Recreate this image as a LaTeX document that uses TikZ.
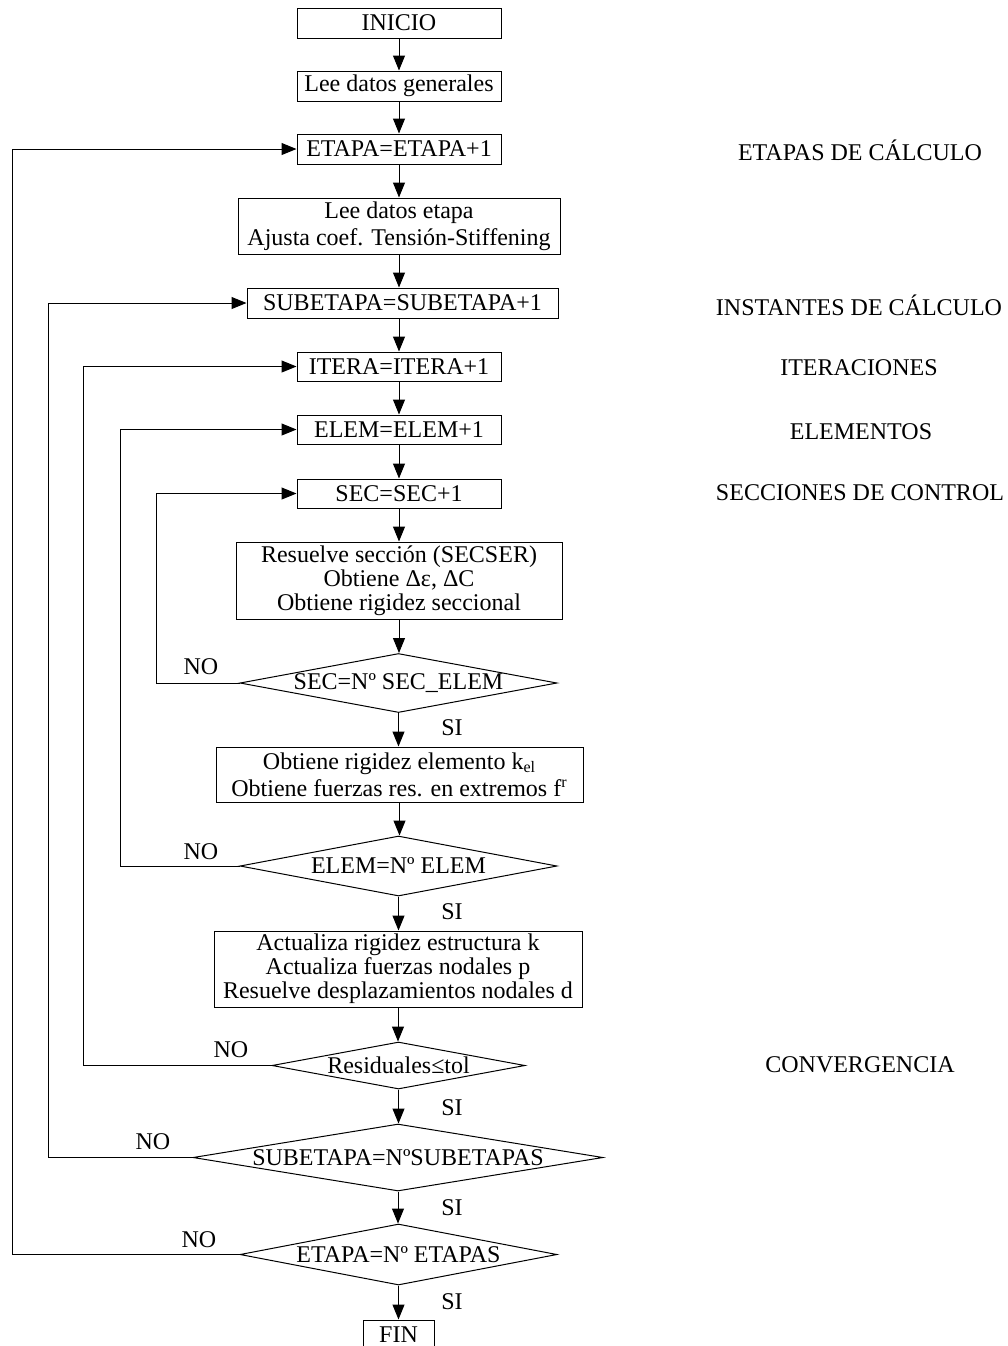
\documentclass[tikz,border=0pt]{standalone}
\usepackage{fontspec}
\setmainfont{Liberation Serif}
\usepackage{tikz}
\usetikzlibrary{arrows.meta}
\usetikzlibrary{shapes.geometric}
\newcommand{\Rtext}[1]{\makebox[0pt]{#1}}

\begin{document}
\begin{tikzpicture}[x=0.5pt, y=-0.5pt, line width=0.5pt,
		every node/.style={font=\fontsize{12}{12}\selectfont},
		caja/.style={draw, rectangle, align=center, inner sep=0pt},
		ancha/.style={font=\fontsize{12}{13.5}\selectfont},
		rombo/.style={draw, diamond, inner sep=0pt},
		arr/.style={-{Triangle[length=7.5pt,width=6pt]}}]
		\useasboundingbox (0,0) rectangle (1008,1346);

		% columna principal
		\node(inicio)	[caja, minimum width=102pt, minimum height=15pt]	at (399,23)		{INICIO};
		\node(leegen)	[caja, minimum width=102pt, minimum height=15pt]	at (399,86)		{Lee datos generales};
		\node(etapa)	[caja, minimum width=102pt, minimum height=15pt]	at (399,149)	{ETAPA=ETAPA+1};
		\node(leeetapa)	[caja, ancha, minimum width=161pt, minimum height=28pt]	at (399,226)	{Lee datos etapa\\Ajusta coef. Tensión-Stiffening};
		\node(subetapa)	[caja, minimum width=155.5pt, minimum height=15pt]	at (402.5,303)	{SUBETAPA=SUBETAPA+1};
		\node(itera)	[caja, minimum width=102pt, minimum height=14.5pt]	at (399,366.5)	{ITERA=ITERA+1};
		\node(elem)		[caja, minimum width=102pt, minimum height=14.5pt]	at (399,429.5)	{ELEM=ELEM+1};
		\node(sec)		[caja, minimum width=102pt, minimum height=14.5pt]	at (399,493.5)	{SEC=SEC+1};
		\node(resuelve)	[caja, minimum width=163pt, minimum height=38.5pt]	at (399,580.5)	{Resuelve sección (SECSER)\\Obtiene Δε, ΔC\\Obtiene rigidez seccional};
		\node(dsec)		[rombo, minimum width=158.5pt, minimum height=29.5pt]	at (398.5,683)	{\Rtext{SEC=Nº SEC\_ELEM}};
		\node(obtiene)	[caja, ancha, minimum width=183.5pt, minimum height=27.5pt]	at (399.5,774.5)	{Obtiene rigidez elemento k\textsubscript{el}\\Obtiene fuerzas res. en extremos f\textsuperscript{r}};
		\node(delem)	[rombo, minimum width=158.5pt, minimum height=30pt]	at (398.5,866)	{\Rtext{ELEM=Nº ELEM}};
		\node(actualiza)	[caja, minimum width=184pt, minimum height=38pt]	at (398,969)	{Actualiza rigidez estructura k\\Actualiza fuerzas nodales p\\Resuelve desplazamientos nodales d};
		\node(dres)		[rombo, minimum width=126.5pt, minimum height=23.5pt]	at (398.5,1065.5)	{\Rtext{Residuales≤tol}};
		\node(dsub)		[rombo, minimum width=205pt, minimum height=33.5pt]	at (398,1157.5)	{\Rtext{SUBETAPA=NºSUBETAPAS}};
		\node(detapa)	[rombo, minimum width=158.5pt, minimum height=30.5pt]	at (398.5,1254.5)	{\Rtext{ETAPA=Nº ETAPAS}};
		\node(fin)		[caja, minimum width=35.5pt, minimum height=15pt]	at (398.5,1335)	{FIN};

		% flujo hacia abajo
		\draw[arr](inicio.south)	-- (inicio.south |- leegen.north);
		\draw[arr](leegen.south)	-- (leegen.south |- etapa.north);
		\draw[arr](etapa.south)		-- (etapa.south |- leeetapa.north);
		\draw[arr](leeetapa.south)	-- (leeetapa.south |- subetapa.north);
		\draw[arr](leeetapa.south |- subetapa.south)	-- (leeetapa.south |- itera.north);
		\draw[arr](itera.south)		-- (itera.south |- elem.north);
		\draw[arr](elem.south)		-- (elem.south |- sec.north);
		\draw[arr](sec.south)		-- (sec.south |- resuelve.north);
		\draw[arr](resuelve.south)	-- (resuelve.south |- dsec.north);
		\draw[arr](dsec.south)		-- (dsec.south |- obtiene.north);
		\draw[arr](obtiene.south)	-- (obtiene.south |- delem.north);
		\draw[arr](delem.south)		-- (delem.south |- actualiza.north);
		\draw[arr](actualiza.south)	-- (actualiza.south |- dres.north);
		\draw[arr](dres.south)		-- (dres.south |- dsub.north);
		\draw[arr](dsub.south)		-- (dsub.south |- detapa.north);
		\draw[arr](detapa.south)	-- (detapa.south |- fin.north);

		% bucles de retorno
		\coordinate(xetapa)	at (12,0);
		\coordinate(xsub)	at (48,0);
		\coordinate(xitera)	at (83.5,0);
		\coordinate(xelem)	at (120,0);
		\coordinate(xsec)	at (156,0);
		\draw[arr](dsec.west)	-- (dsec.west -| xsec)		|- (sec.west);
		\draw[arr](delem.west)	-- (delem.west -| xelem)	|- (elem.west);
		\draw[arr](dres.west)	-- (dres.west -| xitera)	|- (itera.west);
		\draw[arr](dsub.west)	-- (dsub.west -| xsub)		|- (subetapa.west);
		\draw[arr](detapa.west)	-- (detapa.west -| xetapa)	|- (etapa.west);

		% etiquetas SI / NO
		\node(nosec)	at (201,667)	{NO};
		\node(noelem)	at (201,852)	{NO};
		\node(nores)	at (231,1050)	{NO};
		\node(nosub)	at (153,1142)	{NO};
		\node(noetapa)	at (199,1240)	{NO};
		\node(sisec)	at (452,728)	{SI};
		\node(sielem)	at (452,912)	{SI};
		\node(sires)	at (452,1108)	{SI};
		\node(sisub)	at (452,1208)	{SI};
		\node(sietapa)	at (452,1302)	{SI};

		% niveles de los bucles
		\node(tetapa)	at (860,150)	{ETAPAS DE CÁLCULO};
		\node(tsub)		at (859,305)	{INSTANTES DE CÁLCULO};
		\node(titera)	at (859,368)	{ITERACIONES};
		\node(telem)	at (861,432)	{ELEMENTOS};
		\node(tsec)		at (860,493)	{SECCIONES DE CONTROL};
		\node(tconv)	at (860,1065)	{CONVERGENCIA};
	\end{tikzpicture}
\end{document}
